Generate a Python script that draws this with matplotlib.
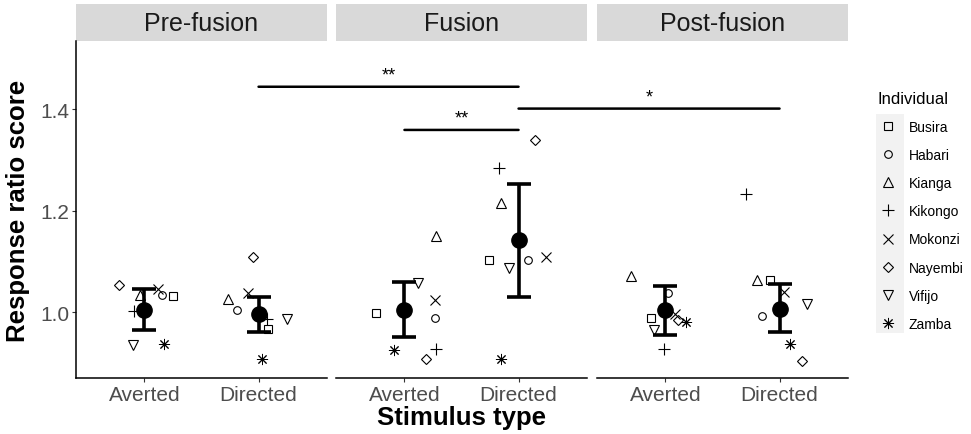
import numpy as np
import matplotlib as mpl
mpl.use('Agg')
import matplotlib.pyplot as plt
from matplotlib.patches import Rectangle, ConnectionPatch
from matplotlib.lines import Line2D

plt.rcParams['font.family'] = ['Liberation Sans', 'DejaVu Sans']

phases = ['Pre-fusion', 'Fusion', 'Post-fusion']
stimuli = ['Averted', 'Directed']
individuals = ['Busira', 'Habari', 'Kianga', 'Kikongo', 'Mokonzi', 'Nayembi', 'Vifijo', 'Zamba']

# individual scores, one row per phase x stimulus, columns in order of individuals
pre_averted = [1.033, 1.035, 1.034, 1.003, 1.045, 1.054, 0.935, 0.937]
pre_directed = [0.968, 1.004, 1.027, 0.986, 1.039, 1.108, 0.986, 0.909]
fus_averted = [0.999, 0.988, 1.150, 0.927, 1.024, 0.909, 1.057, 0.926]
fus_directed = [1.103, 1.103, 1.215, 1.284, 1.108, 1.339, 1.087, 0.909]
post_averted = [0.988, 1.038, 1.072, 0.927, 0.996, 0.985, 0.965, 0.981]
post_directed = [1.063, 0.993, 1.064, 1.233, 1.040, 0.905, 1.017, 0.937]

# horizontal jitter
jit_pre_averted = [0.25, 0.15, -0.04, -0.09, 0.12, -0.22, -0.10, 0.17]
jit_pre_directed = [0.08, -0.19, -0.27, 0.07, -0.09, -0.05, 0.25, 0.03]
jit_fus_averted = [-0.25, 0.27, 0.28, 0.28, 0.27, 0.19, 0.12, -0.09]
jit_fus_directed = [-0.26, 0.08, -0.15, -0.17, 0.24, 0.14, -0.08, -0.15]
jit_post_averted = [-0.13, 0.02, -0.30, -0.01, 0.08, 0.11, -0.10, 0.18]
jit_post_directed = [-0.08, -0.15, -0.20, -0.29, 0.04, 0.20, 0.24, 0.09]

# model means and intervals (Averted, Directed) per phase
mean_pre = [1.004, 0.997]
mean_fus = [1.005, 1.142]
mean_post = [1.004, 1.007]
lo_pre = [0.965, 0.962]
lo_fus = [0.952, 1.031]
lo_post = [0.956, 0.962]
hi_pre = [1.045, 1.031]
hi_fus = [1.059, 1.252]
hi_post = [1.052, 1.055]

# significance brackets: (phase, stimulus) -> (phase, stimulus), height, label
sig_from = [(0, 1), (1, 0), (1, 1)]
sig_to = [(1, 1), (1, 1), (2, 1)]
sig_y = [1.444, 1.359, 1.401]
sig_label = ['**', '**', '*']

scores = [[pre_averted, pre_directed], [fus_averted, fus_directed], [post_averted, post_directed]]
jitters = [[jit_pre_averted, jit_pre_directed], [jit_fus_averted, jit_fus_directed],
           [jit_post_averted, jit_post_directed]]
means = [mean_pre, mean_fus, mean_post]
lows = [lo_pre, lo_fus, lo_post]
highs = [hi_pre, hi_fus, hi_post]

markers = ['s', 'o', '^', '+', 'x', 'D', 'v', (8, 2, 0)]
msizes = [5.5, 5.5, 7, 8.5, 6.5, 5.5, 7, 8]
mews = [0.8, 0.8, 0.8, 0.8, 0.8, 0.8, 0.8, 0.7]

fig = plt.figure(figsize=(9.71, 4.35), dpi=100)
lefts = [76 / 971, 336 / 971, 597 / 971]
axes = []
for i, phase in enumerate(phases):
    ax = fig.add_axes([lefts[i], 0.1287, 251 / 971, 0.7747])
    axes.append(ax)
    for j in range(2):
        x = j + 1 + np.array(jitters[i][j])
        for k in range(len(individuals)):
            ax.plot(x[k], scores[i][j][k], marker=markers[k], ms=msizes[k], mfc='none',
                    mec='black', mew=mews[k], ls='none', zorder=3)
    pos = np.array([1, 2])
    m = np.array(means[i])
    ax.errorbar(pos, m, yerr=[m - np.array(lows[i]), np.array(highs[i]) - m], fmt='o',
                color='black', ms=11, elinewidth=2.6, capsize=8.5, capthick=2.6, zorder=4)
    ax.set_xlim(0.4, 2.6)
    ax.set_ylim(0.8707, 1.534)
    ax.set_xticks([1, 2])
    ax.set_xticklabels(stimuli)
    ax.tick_params(axis='x', colors='#333333', labelcolor='#4d4d4d', labelsize=15, length=3, pad=2)
    for s in ['top', 'right']:
        ax.spines[s].set_visible(False)
    ax.spines['bottom'].set_linewidth(1.1)
    if i == 0:
        ax.set_yticks([1.0, 1.2, 1.4])
        ax.set_yticklabels(['1.0', '1.2', '1.4'])
        ax.tick_params(axis='y', colors='#333333', labelcolor='#4d4d4d', labelsize=15, length=3, pad=2)
        ax.spines['left'].set_linewidth(1.1)
        ax.set_ylabel('Response ratio score', fontsize=18.5, fontweight='bold', labelpad=7)
    else:
        ax.spines['left'].set_visible(False)
        ax.set_yticks([])
    ax.add_patch(Rectangle((0, 1.0), 1, 37 / 337, transform=ax.transAxes, facecolor='#d9d9d9',
                           edgecolor='none', clip_on=False))
    ax.text(0.5, 1.0 + 18.5 / 337, phase, transform=ax.transAxes, ha='center', va='center',
            fontsize=18, color='#1a1a1a')

axes[1].set_xlabel('Stimulus type', fontsize=18.5, fontweight='bold', labelpad=1)

# significance brackets across panels
inv = fig.transFigure.inverted()
for (pa, sa), (pb, sb), y, lab in zip(sig_from, sig_to, sig_y, sig_label):
    con = ConnectionPatch(xyA=(sa + 1, y), coordsA=axes[pa].transData,
                          xyB=(sb + 1, y), coordsB=axes[pb].transData, color='black', lw=1.8)
    fig.add_artist(con)
    a = axes[pa].transData.transform((sa + 1, y))
    b = axes[pb].transData.transform((sb + 1, y))
    mx, my = inv.transform(((a[0] + b[0]) / 2, a[1]))
    fig.text(mx, my + 0.008, lab, ha='center', va='bottom', fontsize=13)

# legend with grey key background
fig.patches.append(Rectangle((876 / 971, 1 - 334 / 435), 28 / 971, 219 / 435,
                             transform=fig.transFigure, facecolor='#f2f2f2', edgecolor='none', zorder=0))
handles = [Line2D([], [], marker=markers[k], ms=msizes[k], mfc='none', mec='black', mew=mews[k], ls='none')
           for k in range(len(individuals))]
leg = fig.legend(handles, individuals, loc='upper left', bbox_to_anchor=(872 / 971, 1 - 86 / 435),
                 frameon=False, title='Individual', title_fontsize=12, fontsize=10,
                 handlelength=1.5, handletextpad=0.75, labelspacing=1.02, alignment='left',
                 borderaxespad=0)

fig.savefig('out.png', dpi=100)
